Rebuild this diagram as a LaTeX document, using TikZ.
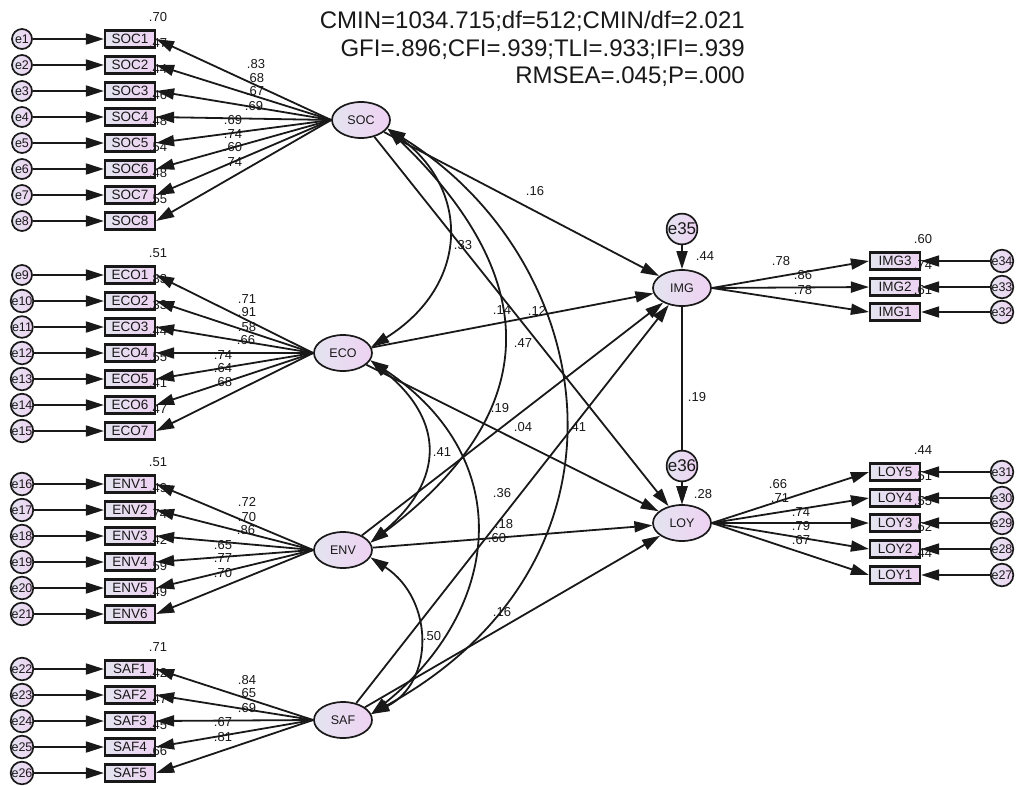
\documentclass[tikz,border=0pt]{standalone}
\usepackage{fontspec}
\setmainfont{Liberation Sans}
\usetikzlibrary{arrows.meta,shapes.geometric}
\definecolor{fa}{RGB}{228,228,240}
\definecolor{fb}{RGB}{238,210,242}
\definecolor{ink}{RGB}{25,25,25}
\tikzset{
 obs/.style={draw=ink, line width=2.2pt, rectangle, minimum width=50pt, minimum height=17pt, inner sep=0pt, left color=fa, right color=fb, text=ink, font=\fontsize{13.5}{13.5}\selectfont},
 lat/.style={draw=ink, line width=1.7pt, ellipse, minimum width=58pt, minimum height=36pt, inner sep=0pt, left color=fa, right color=fb, text=ink, font=\fontsize{12.5}{12.5}\selectfont},
 err/.style={draw=ink, line width=1.7pt, circle, minimum size=20pt, inner sep=0pt, left color=fa, right color=fb, text=ink, font=\fontsize{12.5}{12.5}\selectfont},
 bigerr/.style={err, minimum size=24pt, font=\fontsize{17}{17}\selectfont},
 lab/.style={font=\fontsize{13}{13}\selectfont, text=ink, inner sep=0pt},
 arr/.style={draw=ink, line width=1.8pt, -{Triangle[length=18pt,width=11pt]}},
 cov/.style={draw=ink, line width=1.8pt, {Triangle[length=18pt,width=11pt]}-{Triangle[length=18pt,width=11pt]}},
}
\begin{document}
\begin{tikzpicture}[x=1pt,y=-1pt]
\useasboundingbox (0,0) rectangle (1019,785);
\fill[white] (0,0) rectangle (1019,785);

% ---------- left indicators ----------
\foreach \i/\r in {1/.70,2/.47,3/.44,4/.46,5/.48,6/.54,7/.48,8/.55}{
  \pgfmathsetmacro{\y}{39+26*(\i-1)}
  \node[obs] (SOC\i) at (130,\y) {SOC\i};
  \node[err] (e\i) at (22,\y) {e\i};
  \node[lab] (rSOC\i) at (158,\y-22) {\r};
}
\foreach \i/\r in {1/.51,2/.83,3/.33,4/.44,5/.55,6/.41,7/.47}{
  \pgfmathsetmacro{\y}{275+26*(\i-1)}
  \pgfmathtruncatemacro{\k}{8+\i}
  \node[obs] (ECO\i) at (130,\y) {ECO\i};
  \node[err] (e\k) at (22,\y) {e\k};
  \node[lab] (rECO\i) at (158,\y-22) {\r};
}
\foreach \i/\r in {1/.51,2/.49,3/.74,4/.42,5/.59,6/.49}{
  \pgfmathsetmacro{\y}{484+26*(\i-1)}
  \pgfmathtruncatemacro{\k}{15+\i}
  \node[obs] (ENV\i) at (130,\y) {ENV\i};
  \node[err] (e\k) at (22,\y) {e\k};
  \node[lab] (rENV\i) at (158,\y-22) {\r};
}
\foreach \i/\r in {1/.71,2/.42,3/.47,4/.45,5/.66}{
  \pgfmathsetmacro{\y}{669+26*(\i-1)}
  \pgfmathtruncatemacro{\k}{21+\i}
  \node[obs] (SAF\i) at (130,\y) {SAF\i};
  \node[err] (e\k) at (22,\y) {e\k};
  \node[lab] (rSAF\i) at (158,\y-22) {\r};
}

% ---------- right indicators ----------
\foreach \i/\y/\k/\r in {3/261/34/.60, 2/287/33/.74, 1/312/32/.61}{
  \node[obs] (IMG\i) at (895,\y) {IMG\i};
  \node[err] (e\k) at (1002,\y) {e\k};
  \node[lab] (rIMG\i) at (923,\y-22) {\r};
}
\foreach \i/\y/\k/\r in {5/472/31/.44, 4/498/30/.51, 3/523/29/.55, 2/549/28/.62, 1/575/27/.44}{
  \node[obs] (LOY\i) at (895,\y) {LOY\i};
  \node[err] (e\k) at (1002,\y) {e\k};
  \node[lab] (rLOY\i) at (923,\y-22) {\r};
}

% ---------- latent variables ----------
\node[lat] (SOC) at (361,120) {SOC};
\node[lat] (ECO) at (343,353) {ECO};
\node[lat] (ENV) at (343,550) {ENV};
\node[lat] (SAF) at (343,720) {SAF};
\node[lat] (IMG) at (682,288) {IMG};
\node[lat] (LOY) at (682,523) {LOY};
\node[bigerr] (e35) at (682,229) {e35};

% ---------- title ----------
\node[anchor=north east, align=right, inner sep=0pt, text=ink, font=\fontsize{24}{27.5}\selectfont] (title) at (745,11)
  {CMIN=1034.715;df=512;CMIN/df=2.021\\GFI=.896;CFI=.939;TLI=.933;IFI=.939\\RMSEA=.045;P=.000};

% ---------- loading labels ----------
\foreach \n/\x/\y/\t in {
  a1/256/64/.83, a2/255/78/.68, a3/255/91/.67, a4/254/106/.69,
  a5/233/120/.69, a6/233/134/.74, a7/233/147/.60, a8/233/162/.74,
  b1/247/299/.71, b2/247/312/.91, b3/247/327/.58, b4/246/340/.66,
  b5/223/355/.74, b6/223/368/.64, b7/223/382/.68,
  c1/247/502/.72, c2/247/517/.70, c3/246/530/.86,
  c4/223/545/.65, c5/223/558/.77, c6/223/573/.70,
  d1/247/680/.84, d2/247/693/.65, d3/247/708/.69,
  d4/223/722/.67, d5/223/737/.81,
  g1/781/261/.78, g2/803/275/.86, g3/803/290/.78,
  h1/778/484/.66, h2/780/498/.71, h3/801/512/.74, h4/801/526/.79, h5/801/540/.67,
  s1/535/191/.16, s2/463/245/.33, s3/502/310/.14, s4/537/311/.12,
  s5/523/343/.47, s6/500/408/.19, s7/523/427/.04, s8/442/452/.41,
  s9/577/427/.41, s10/502/493/.36, s11/504/524/.18, s12/497/538/.60,
  s13/502/612/.16, s14/432/636/.50, s15/697/397/.19,
  s16/705/256/.44, s17/703/494/.28}
  \node[lab] (\n) at (\x,\y) {\t};

% ---------- measurement arrows ----------
\foreach \i in {1,...,8}{
  \draw[arr] (e\i) -- (SOC\i);
  \draw[arr] (SOC.west) -- (SOC\i.east);
}
\foreach \i in {1,...,7}{
  \pgfmathtruncatemacro{\k}{8+\i}
  \draw[arr] (e\k) -- (ECO\i);
  \draw[arr] (ECO.west) -- (ECO\i.east);
}
\foreach \i in {1,...,6}{
  \pgfmathtruncatemacro{\k}{15+\i}
  \draw[arr] (e\k) -- (ENV\i);
  \draw[arr] (ENV.west) -- (ENV\i.east);
}
\foreach \i in {1,...,5}{
  \pgfmathtruncatemacro{\k}{21+\i}
  \draw[arr] (e\k) -- (SAF\i);
  \draw[arr] (SAF.west) -- (SAF\i.east);
}
\foreach \i/\k in {3/34,2/33,1/32}{
  \draw[arr] (e\k) -- (IMG\i);
  \draw[arr] (IMG.east) -- (IMG\i.west);
}
\foreach \i/\k in {5/31,4/30,3/29,2/28,1/27}{
  \draw[arr] (e\k) -- (LOY\i);
  \draw[arr] (LOY.east) -- (LOY\i.west);
}

% ---------- structural paths ----------
\draw[arr] (SOC) -- (IMG);
\draw[arr] (SOC) -- (LOY);
\draw[arr] (ECO) -- (IMG);
\draw[arr] (ECO) -- (LOY);
\draw[arr] (ENV) -- (IMG);
\draw[arr] (ENV) -- (LOY);
\draw[arr] (SAF) -- (IMG);
\draw[arr] (SAF) -- (LOY);
\draw[arr] (e35) -- (IMG);
\draw[arr] (IMG) -- (LOY);
\node[bigerr] (e36) at (682,466) {e36};
\draw[arr] (e36) -- (LOY);

% ---------- covariances ----------
\draw[cov] (SOC.-18) .. controls (470,190) and (470,285) .. (ECO.12);
\draw[cov] (SOC.-18) .. controls (565,300) and (520,430) .. (ENV.15);
\draw[cov] (SOC.-18) .. controls (600,260) and (650,560) .. (SAF.12);
\draw[cov] (ECO.-15) .. controls (445,420) and (445,480) .. (ENV.15);
\draw[cov] (ECO.-15) .. controls (520,460) and (500,611) .. (SAF.12);
\draw[cov] (ENV.-15) .. controls (435,600) and (434,683) .. (SAF.12);
\end{tikzpicture}
\end{document}
